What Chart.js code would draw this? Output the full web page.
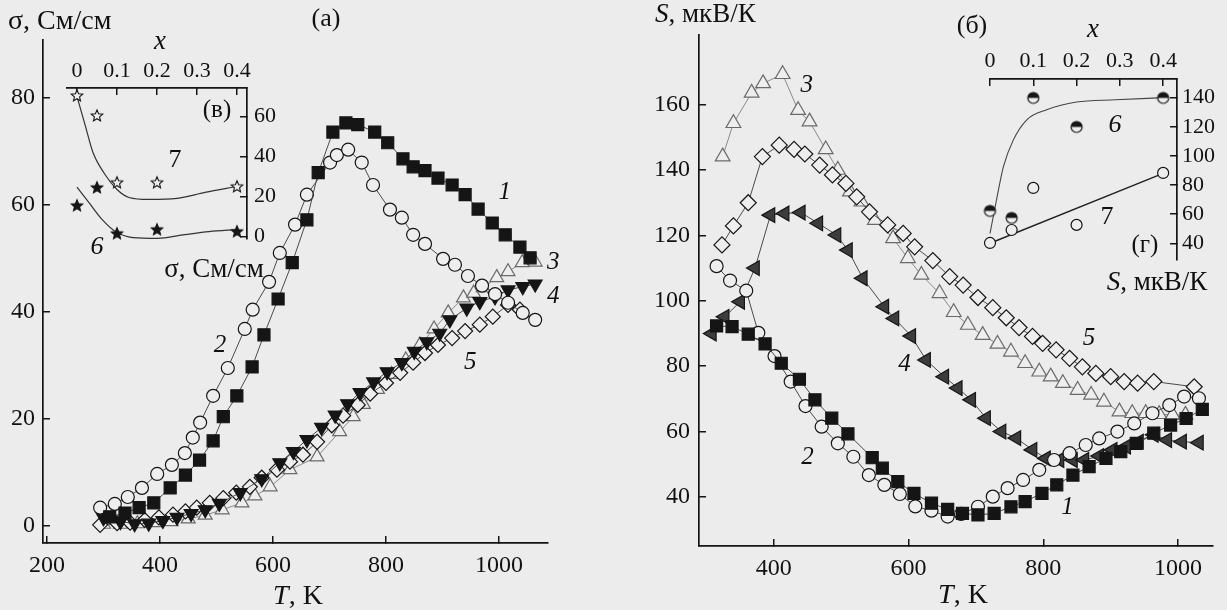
<!DOCTYPE html>
<html><head><meta charset="utf-8">
<script src="https://cdn.jsdelivr.net/npm/chart.js@4/dist/chart.umd.min.js"></script>
<style>
html,body{margin:0;padding:0;background:#efefef;}
#wrap{position:relative;width:1227px;height:610px;overflow:hidden;background:#ececec;}
#wrap canvas{position:absolute;left:0;top:0;}
</style></head><body>
<div id="wrap">
<canvas id="cL" width="1227" height="610"></canvas>
<canvas id="cR" width="1227" height="610"></canvas>
<canvas id="cIL" width="1227" height="610"></canvas>
<canvas id="cIR" width="1227" height="610"></canvas>
</div>
<script>
// ---------------- DATA: left panel (a), sigma vs T ----------------
const T_TICKS_L = [200, 400, 600, 800, 1000];
const SIG_TICKS = [0, 20, 40, 60, 80];
const T1_L = [311,338,363,389,418,445,470,494,512,536,563,584,609,634,660,680,706,729,750,780,803,830,848,869,892,917,940,963,988,1011,1037,1055];
const S1_L = [1.7,2.4,3.4,4.3,7.1,9.5,12.3,15.9,20.4,24.3,29.7,35.7,42.4,49.2,57.2,66,73.6,75.3,75,73.6,71.6,68.6,67.1,66.4,65,63.7,61.9,59.2,56.6,54.4,52.1,50.1];
const T2_L = [294,320,343,368,395,421,444,458,471,494,520,550,564,593,612,639,660,701,713,733,757,777,807,828,848,869,901,922,945,970,993,1016,1042,1064];
const S2_L = [3.4,4.1,5.4,7.1,9.7,11.4,13.6,16.5,19.3,24.3,29.5,36.8,40.4,45.6,51,56.3,61.9,67.9,69.3,70.3,67.9,63.7,59.1,57.6,54.4,52.7,49.9,48.8,46.7,44.9,43.3,41.7,39.8,38.5];
const T3_L = [300,330,360,390,420,450,480,510,545,568,595,630,678,718,742,760,785,810,835,860,885,910,937,955,972,996,1016,1041,1064];
const S3_L = [0.3,0.3,0.4,0.6,0.8,1.3,2.0,3.0,4.3,5.6,7.3,10.5,12.9,17.6,20.4,22.7,25.5,28.3,31,33.8,36.8,39.8,42.6,43.5,44.5,46.4,47.5,49.2,49.3];
const T4_L = [300,330,355,380,405,430,455,480,505,542,580,612,636,660,686,710,732,754,778,802,828,850,872,895,913,943,966,993,1016,1042,1064];
const S4_L = [1.5,0.8,0.4,0.5,1.0,1.6,2.3,3.0,4.2,6.2,8.8,11.8,13.9,16.1,18.4,20.7,22.8,24.9,26.9,28.8,30.5,32.6,34.4,36,38.5,40.7,41.9,42.8,44.1,44.7,45.2];
const T5_L = [294,324,347,373,398,423,445,465,488,512,535,559,580,607,630,653,678,704,724,750,772,800,825,848,869,892,917,940,966,989,1016,1037];
const S5_L = [0.2,0.5,0.6,1.1,1.6,2.1,2.7,3.4,4.3,5.2,6.2,7.3,9,10.5,12,13.3,15.7,18.8,20.6,22.6,24.7,26.7,28.6,30.5,32.3,33.8,35.1,36.4,37.6,39.1,41.3,40.4];

// ---------------- DATA: right panel (б), S vs T ----------------
const T_TICKS_R = [400, 600, 800, 1000];
const S_TICKS = [40, 60, 80, 100, 120, 140, 160];
const T1_R = [315,338,362,387,411,438,461,486,510,546,561,584,608,634,658,680,703,727,752,773,798,820,844,868,893,915,938,964,989,1012,1036];
const S1_R = [92.3,92.1,89.8,86.8,80.9,76,69.7,64.1,59.3,52,48.8,44.7,41.1,38.1,36.2,35,34.5,35,37,38.6,41.1,43.7,46.7,49.3,51.8,53.9,56.4,59.5,62,64,66.8];
const T2_R = [315,335,359,377,401,425,447,471,495,518,541,564,587,610,634,658,678,703,725,747,770,794,816,839,863,883,910,935,962,987,1009,1031];
const S2_R = [110.6,106.2,103.1,90.2,83.1,75.3,67.8,61.5,56.4,52.3,46.7,43.7,40.9,37.1,35.8,34,34.8,37,40.1,42.7,45.2,48.3,51.3,53.4,55.9,57.9,60,62.5,65.6,68.1,70.7,70.2];
const T3_R = [324,340,367,384,413,436,453,477,495,513,530,550,577,599,619,646,667,688,710,732,752,773,794,811,829,851,871,890,913,932,952,972,992,1011];
const S3_R = [144.1,154.3,163.6,166.5,169.3,158.3,154.8,146.3,140,133.4,130.3,124.7,119.1,113,107.9,102.3,96.5,92.6,89.5,86.8,84.4,80.9,78.3,76.8,74.8,72.7,71.2,69.1,66.1,65.6,65.6,65.3,65.1,65.1];
const T4_R = [308,327,350,372,395,416,440,466,493,510,532,564,579,604,626,653,673,693,715,738,760,784,804,824,844,861,883,903,923,942,964,984,1006,1031];
const S4_R = [90,95.1,99.7,110,126.2,126.7,127,123.7,120.1,115.5,106.9,98.2,94.6,89.2,81.9,76.8,73.3,69.7,64.1,60,58,54.4,51.8,51.3,51.3,51.3,52.5,54.4,55.4,56.9,59,57.4,56.9,56.6];
const T5_R = [323,340,362,383,408,430,446,468,487,507,523,542,569,592,609,636,661,681,703,725,745,764,784,799,819,839,858,878,900,920,940,964,1024];
const S5_R = [117.1,122.9,130,144.1,147.6,146.3,144.9,141.5,138.5,135.9,131.8,127.2,123.2,120.6,116.5,112.3,107.4,104.8,101,97.9,94.8,91.8,89.1,87,85,82.4,79.8,77.8,76.8,75.3,74.8,75.3,73.7];

// ---------------- DATA: insets (в) sigma vs x, (г) S vs x ----------------
const X_TICKS = [0, 0.1, 0.2, 0.3, 0.4];
const X_INS = [0, 0.05, 0.1, 0.2, 0.4];
const SIG6_X = [15.3, 24.3, 1.3, 3.3, 2.3];
const SIG7_X = [70.3, 60.3, 26.8, 26.8, 24.8];
const SIG_TICKS_INS = [0, 20, 40, 60];
const FIT7_SIG_X = [0, 0.02, 0.04, 0.07, 0.1, 0.13, 0.18, 0.25, 0.32, 0.4];
const FIT7_SIG_Y = [70, 56, 42, 31, 23.5, 19.5, 18.5, 19, 22, 25];
const FIT6_SIG_X = [0, 0.03, 0.063, 0.1, 0.14, 0.2, 0.27, 0.33, 0.4];
const FIT6_SIG_Y = [24.7, 16.9, 8.4, 1.9, -0.6, -1.0, 0.9, 2.4, 3.4];
const S6_X = [62.2, 57.4, 139.8, 119.9, 139.8];
const S7_X = [40.2, 49.1, 78, 52.6, 88.3];
const S_TICKS_INS = [40, 60, 80, 100, 120, 140];
const FIT6_S_X = [0, 0.015, 0.031, 0.054, 0.085, 0.131, 0.2, 0.29, 0.4];
const FIT6_S_Y = [46.7, 69.7, 92.6, 111, 124.8, 131.7, 137, 138.5, 140];
const FIT7_S_X = [0, 0.4];
const FIT7_S_Y = [40, 88];

// ---------------- helpers ----------------
const SERIF = "'Liberation Serif', 'Times New Roman', serif";
Chart.defaults.font.family = SERIF;
Chart.defaults.color = '#111';
const INK = '#151515';
const OPEN = '#eeeeee';

const pts = (xs, ys) => xs.map((x, i) => ({x, y: ys[i]}));

function starCanvas(r, filled) {
  const s = Math.ceil(2 * r + 4), c = document.createElement('canvas');
  c.width = c.height = s;
  const g = c.getContext('2d');
  g.beginPath();
  for (let i = 0; i < 10; i++) {
    const a = -Math.PI / 2 + i * Math.PI / 5, rr = i % 2 ? r * 0.45 : r;
    g.lineTo(s / 2 + rr * Math.cos(a), s / 2 + rr * Math.sin(a));
  }
  g.closePath();
  g.fillStyle = filled ? INK : OPEN; g.fill();
  g.lineWidth = 1.1; g.strokeStyle = INK; g.stroke();
  return c;
}
function halfCircleCanvas(r) {
  const s = Math.ceil(2 * r + 4), c = document.createElement('canvas');
  c.width = c.height = s;
  const g = c.getContext('2d'), m = s / 2;
  g.beginPath(); g.arc(m, m, r, 0, 2 * Math.PI); g.fillStyle = OPEN; g.fill();
  g.beginPath(); g.arc(m, m, r, Math.PI, 2 * Math.PI); g.closePath(); g.fillStyle = INK; g.fill();
  g.beginPath(); g.arc(m, m, r, 0, 2 * Math.PI); g.lineWidth = 1.2; g.strokeStyle = INK; g.stroke();
  return c;
}

function axis(pos, min, max, ticks, pad, fit, fontSize) {
  const horiz = pos === 'top' || pos === 'bottom';
  return {
    type: 'linear', position: pos, min, max,
    border: {display: true, color: INK, width: 1.7},
    grid: {drawOnChartArea: false, drawTicks: true, tickLength: -7, color: INK, lineWidth: 1.5},
    ticks: {font: {size: fontSize, family: SERIF}, color: '#111', padding: pad, maxRotation: 0, autoSkip: false,
            callback: v => String(v)},
    afterBuildTicks: s => { s.ticks = ticks.map(v => ({value: v})); },
    afterFit: s => { if (horiz) s.height = fit; else s.width = fit; }
  };
}

const textPlugin = {
  id: 'txt',
  afterDraw(chart, args, opts) {
    const ctx = chart.ctx;
    ctx.save();
    ctx.fillStyle = '#111';
    ctx.textBaseline = 'middle';
    ctx.textAlign = 'left';
    for (const it of (opts.items || [])) {
      let x, y;
      if (it.d) { x = chart.scales.x.getPixelForValue(it.d[0]); y = chart.scales.y.getPixelForValue(it.d[1]); }
      else { x = it.p[0]; y = it.p[1]; }
      const size = it.size || 25;
      const f = s => (s.it ? 'italic ' : '') + size + 'px ' + SERIF;
      let w = 0;
      for (const s of it.segs) { ctx.font = f(s); w += ctx.measureText(s.t).width; }
      let cx = it.left ? x : x - w / 2;
      for (const s of it.segs) { ctx.font = f(s); ctx.fillText(s.t, cx, y); cx += ctx.measureText(s.t).width; }
    }
    ctx.restore();
  }
};

function ds(data, style, opt) {
  return Object.assign({
    data, showLine: true, borderColor: '#4a4a4a', borderWidth: 1,
    pointStyle: style, pointRadius: 6.5, pointHoverRadius: 6.5,
    pointBorderColor: INK, pointBackgroundColor: INK, pointBorderWidth: 1.2,
    clip: false
  }, opt || {});
}

function baseOpts(padding, scales, items) {
  return {
    responsive: false, animation: false, events: [],
    layout: {padding},
    plugins: {legend: {display: false}, tooltip: {enabled: false}, txt: {items}},
    scales
  };
}

function drawAll() {
// ---------------- left main chart (a) ----------------
new Chart(document.getElementById('cL'), {
  type: 'scatter',
  data: {datasets: [
    ds(pts(T1_L, S1_L), 'rect', {pointRadius: 8.5}),
    ds(pts(T2_L, S2_L), 'circle', {pointRadius: 6.5, pointBackgroundColor: OPEN}),
    ds(pts(T4_L, S4_L), 'triangle', {pointRadius: 8, pointRotation: 180}),
    ds(pts(T5_L, S5_L), 'rectRot', {pointRadius: 7.5, pointBackgroundColor: OPEN}),
    ds(pts(T3_L, S3_L), 'triangle', {pointRadius: 8, pointBackgroundColor: OPEN, pointBorderColor: '#6a6a6a', borderColor: '#8a8a8a'})
  ]},
  options: baseOpts({left: 0, top: 40, right: 679, bottom: 0}, {
    x: axis('bottom', 192.9, 1086.7, T_TICKS_L, 15, 67, 24),
    y: axis('left', -3.2, 90.8, SIG_TICKS, 15, 43, 24)
  }, [
    {p: [8, 22], left: true, size: 28, segs: [{t: 'σ, См/см'}]},
    {p: [298, 597], size: 28, segs: [{t: 'T', it: true}, {t: ', K'}]},
    {p: [326, 19], size: 26, segs: [{t: '(а)'}]},
    {d: [1010, 62.4], segs: [{t: '1', it: true}]},
    {d: [506, 33.8], segs: [{t: '2', it: true}]},
    {d: [1096, 49.2], segs: [{t: '3', it: true}]},
    {d: [1096, 42.8], segs: [{t: '4', it: true}]},
    {d: [949, 30.5], segs: [{t: '5', it: true}]}
  ]),
  plugins: [textPlugin]
});

// ---------------- right main chart (б) ----------------
new Chart(document.getElementById('cR'), {
  type: 'scatter',
  data: {datasets: [
    ds(pts(T1_R, S1_R), 'rect', {pointRadius: 8.5}),
    ds(pts(T2_R, S2_R), 'circle', {pointRadius: 6.5, pointBackgroundColor: OPEN}),
    ds(pts(T4_R, S4_R), 'triangle', {pointRadius: 8.5, pointRotation: -90, pointBackgroundColor: '#3c3c3c'}),
    ds(pts(T5_R, S5_R), 'rectRot', {pointRadius: 8, pointBackgroundColor: OPEN}),
    ds(pts(T3_R, S3_R), 'triangle', {pointRadius: 8.5, pointBackgroundColor: OPEN, pointBorderColor: '#6a6a6a', borderColor: '#8a8a8a'})
  ]},
  options: baseOpts({left: 649, top: 35, right: 14, bottom: 0}, {
    x: axis('bottom', 288.9, 1051.9, T_TICKS_R, 15, 64, 24),
    y: axis('left', 25.0, 181.3, S_TICKS, 16, 50, 24)
  }, [
    {p: [655, 15], left: true, size: 27, segs: [{t: 'S', it: true}, {t: ', мкВ/К'}]},
    {p: [963, 596], size: 28, segs: [{t: 'T', it: true}, {t: ', K'}]},
    {d: [449, 166], segs: [{t: '3', it: true}]},
    {d: [868, 88.6], segs: [{t: '5', it: true}]},
    {d: [594, 80.4], segs: [{t: '4', it: true}]},
    {d: [450, 52.2], segs: [{t: '2', it: true}]},
    {d: [836, 36.9], segs: [{t: '1', it: true}]}
  ]),
  plugins: [textPlugin]
});

// ---------------- left inset (в) ----------------
const starOpen = starCanvas(6, false), starFill = starCanvas(6, true);
new Chart(document.getElementById('cIL'), {
  type: 'scatter',
  data: {datasets: [
    ds(pts(X_INS, SIG7_X), starOpen, {showLine: false}),
    ds(pts(X_INS, SIG6_X), starFill, {showLine: false}),
    ds(pts(FIT7_SIG_X, FIT7_SIG_Y), 'circle', {pointRadius: 0, borderColor: '#333', borderWidth: 1.2, cubicInterpolationMode: 'monotone'}),
    ds(pts(FIT6_SIG_X, FIT6_SIG_Y), 'circle', {pointRadius: 0, borderColor: '#333', borderWidth: 1.2, cubicInterpolationMode: 'monotone'})
  ]},
  options: baseOpts({left: 67, top: 48, right: 930, bottom: 371}, {
    x: axis('top', -0.025, 0.425, X_TICKS, 11, 40, 22),
    y: axis('right', -1.3, 74.3, SIG_TICKS_INS, 14, 50, 22)
  }, [
    {p: [160, 42], size: 27, segs: [{t: 'x', it: true}]},
    {p: [214, 270], size: 27, segs: [{t: 'σ, См/см'}]},
    {d: [0.35, 63], segs: [{t: '(в)'}]},
    {d: [0.245, 38.4], size: 26, segs: [{t: '7'}]},
    {d: [0.05, -5.6], size: 26, segs: [{t: '6', it: true}]}
  ]),
  plugins: [textPlugin]
});

// ---------------- right inset (г) ----------------
const halfC = halfCircleCanvas(5.5);
new Chart(document.getElementById('cIR'), {
  type: 'scatter',
  data: {datasets: [
    ds(pts(X_INS, S6_X), halfC, {showLine: false}),
    ds(pts(X_INS, S7_X), 'circle', {showLine: false, pointRadius: 5.5, pointBackgroundColor: OPEN}),
    ds(pts(FIT6_S_X, FIT6_S_Y), 'circle', {pointRadius: 0, borderColor: '#444', borderWidth: 1.1, cubicInterpolationMode: 'monotone'}),
    ds(pts(FIT7_S_X, FIT7_S_Y), 'circle', {pointRadius: 0, borderColor: '#222', borderWidth: 1.4})
  ]},
  options: baseOpts({left: 990, top: 39, right: 5, bottom: 350}, {
    x: axis('top', 0, 0.432, X_TICKS, 12, 40, 22),
    y: axis('right', 28.5, 152.8, S_TICKS_INS, 12, 45, 22)
  }, [
    {p: [1093, 30], size: 27, segs: [{t: 'x', it: true}]},
    {p: [972, 26], size: 26, segs: [{t: '(б)'}]},
    {p: [1157, 283], size: 27, segs: [{t: 'S', it: true}, {t: ', мкВ/К'}]},
    {d: [0.289, 121.2], size: 26, segs: [{t: '6', it: true}]},
    {d: [0.27, 58], size: 26, segs: [{t: '7'}]},
    {d: [0.358, 38.8], segs: [{t: '(г)'}]}
  ]),
  plugins: [textPlugin]
});
}

const fontLoads = ["25px 'Liberation Serif'", "italic 25px 'Liberation Serif'"]
  .map(f => document.fonts.load(f, 'σСм0123456789T'));
Promise.all(fontLoads).then(drawAll, drawAll);
</script>
</body></html>
